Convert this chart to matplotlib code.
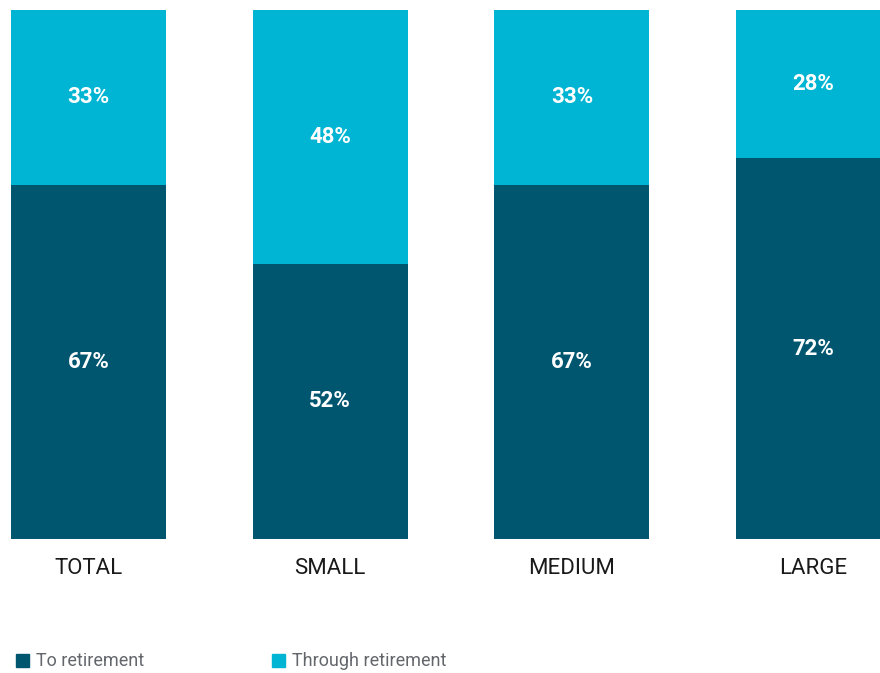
import matplotlib
matplotlib.use("Agg")
import matplotlib.pyplot as plt
from matplotlib.patches import Rectangle
import numpy as np

categories = ["TOTAL", "SMALL", "MEDIUM", "LARGE"]
to_retirement = [67, 52, 67, 72]
through_retirement = [33, 48, 33, 28]
series_names = ["To retirement", "Through retirement"]

dark = "#00566f"
light = "#00b5d3"

plt.rcParams["font.family"] = ["Roboto", "DejaVu Sans"]

fig = plt.figure(figsize=(8.8, 6.73), dpi=100)
ax = fig.add_axes([0, 134 / 673, 1, 529 / 673])

x = np.arange(len(categories))
w = 0.641
ax.bar(x, to_retirement, width=w, color=dark)
ax.bar(x, through_retirement, width=w, bottom=to_retirement, color=light)

for i in x:
    lo, hi = to_retirement[i], through_retirement[i]
    ax.text(i, lo / 2, f"{lo}%", ha="center", va="center", color="white",
            fontsize=16, fontweight="bold")
    ax.text(i, lo + hi / 2, f"{hi}%", ha="center", va="center", color="white",
            fontsize=16, fontweight="bold")

ax.set_xlim(-88.5 / 241.7, (880 - 88.5) / 241.7)
ax.set_ylim(0, 100)
ax.set_xticks(x)
ax.set_xticklabels(categories, fontsize=16, color="#1a1a1a")
ax.tick_params(axis="x", length=0, pad=14)
ax.set_yticks([])
for s in ax.spines.values():
    s.set_visible(False)

# legend, drawn by hand
for name, col, px in zip(series_names, [dark, light], [16, 272]):
    fig.patches.append(Rectangle((px / 880, (673 - 667) / 673), 13 / 880, 13 / 673,
                                 transform=fig.transFigure, color=col))
    fig.text((px + 20) / 880, (673 - 661) / 673, name, ha="left", va="center",
             fontsize=13, color="#63676c")

fig.savefig("out.png", dpi=100)
